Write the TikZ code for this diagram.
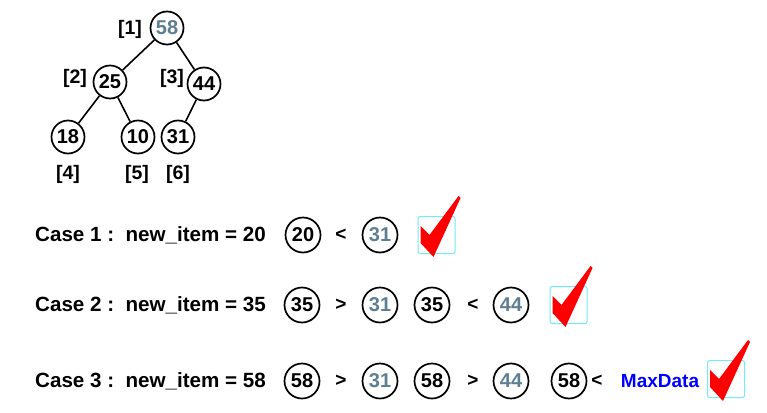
\documentclass[tikz,border=0pt]{standalone}
\usepackage{fontspec}
\setmainfont{Liberation Sans}
\usepackage{xcolor}
\usepackage{tikz}
\usetikzlibrary{positioning}

\definecolor{slate}{HTML}{5E7F91}
\definecolor{boxcyan}{HTML}{74E9F7}

\tikzset{
  heapnode/.style = {circle, draw, line width=1.7pt, minimum size=33pt, inner sep=0pt,
    font=\fontsize{20}{21}\selectfont\bfseries},
  casenode/.style = {heapnode, minimum size=35pt},
  idx/.style = {inner sep=0pt, font=\fontsize{19.5}{20}\selectfont\bfseries},
  casetext/.style = {anchor=west, inner sep=0pt, font=\fontsize{20.6}{22}\selectfont\bfseries},
  cmp/.style = {inner sep=0pt, font=\fontsize{19}{20}\selectfont\bfseries},
  okbox/.style = {draw=boxcyan, line width=1pt, rounded corners=2pt, minimum size=37pt, inner sep=0pt},
  heapedge/.style = {line width=1.6pt},
}

\newcommand{\tickmark}[1]{%
  \fill[red] ([shift={(-16,-9)}]#1.center) -- ([shift={(-7,0)}]#1.center)
    -- ([shift={(22,-39)}]#1.center) -- ([shift={(24,-37)}]#1.center)
    -- ([shift={(-3,22)}]#1.center) -- ([shift={(-16,8)}]#1.center) -- cycle;}

\begin{document}
\begin{tikzpicture}[x=1pt, y=-1pt]
  \useasboundingbox[fill=white] (0,0) rectangle (767,412);

  % the heap
  \node[heapnode, text=slate] (n1) at (167,28) {58};
  \node[heapnode] (n2) at (110,82) {25};
  \node[heapnode] (n3) at (204,84) {44};
  \node[heapnode] (n4) at (68,137) {18};
  \node[heapnode] (n5) at (138,137) {10};
  \node[heapnode] (n6) at (178,137) {31};
  \draw[heapedge] (n1) -- (n2);
  \draw[heapedge] (n1) -- (n3);
  \draw[heapedge] (n2) -- (n4);
  \draw[heapedge] (n2) -- (n5);
  \draw[heapedge] (n3) -- (n6);

  \node[idx] (i1) at (130,29) {[1]};
  \node[idx] (i2) at (75,78) {[2]};
  \node[idx] (i3) at (172,78) {[3]};
  \node[idx] (i4) at (68,174) {[4]};
  \node[idx] (i5) at (137,174) {[5]};
  \node[idx] (i6) at (178,174) {[6]};

  % Case 1
  \node[casetext] (case1) at (35,235) {Case 1 :\ \ new\_item = 20};
  \node[casenode] (c1a) at (303,235) {20};
  \node[cmp] (r1a) at (341,235) {<};
  \node[casenode, text=slate] (c1b) at (380,235) {31};
  \node[okbox] (ok1) at (436.5,235) {};
  \tickmark{ok1}

  % Case 2
  \node[casetext] (case2) at (35,305) {Case 2 :\ \ new\_item = 35};
  \node[casenode] (c2a) at (302,305) {35};
  \node[cmp] (r2a) at (341,305) {>};
  \node[casenode, text=slate] (c2b) at (380,305) {31};
  \node[casenode] (c2c) at (432,305) {35};
  \node[cmp] (r2b) at (473,305) {<};
  \node[casenode, text=slate] (c2d) at (511,305) {44};
  \node[okbox] (ok2) at (568.5,305) {};
  \tickmark{ok2}

  % Case 3
  \node[casetext] (case3) at (35,381) {Case 3 :\ \ new\_item = 58};
  \node[casenode] (c3a) at (302,381) {58};
  \node[cmp] (r3a) at (341,381) {>};
  \node[casenode, text=slate] (c3b) at (380,381) {31};
  \node[casenode] (c3c) at (432,381) {58};
  \node[cmp] (r3b) at (473,381) {>};
  \node[casenode, text=slate] (c3d) at (511,381) {44};
  \node[casenode] (c3e) at (569,381) {58};
  \node[cmp] (r3c) at (597,381) {<};
  \node[cmp, text=blue] (maxd) at (660,381) {MaxData};
  \node[okbox] (ok3) at (726,379) {};
  \tickmark{ok3}
\end{tikzpicture}
\end{document}
